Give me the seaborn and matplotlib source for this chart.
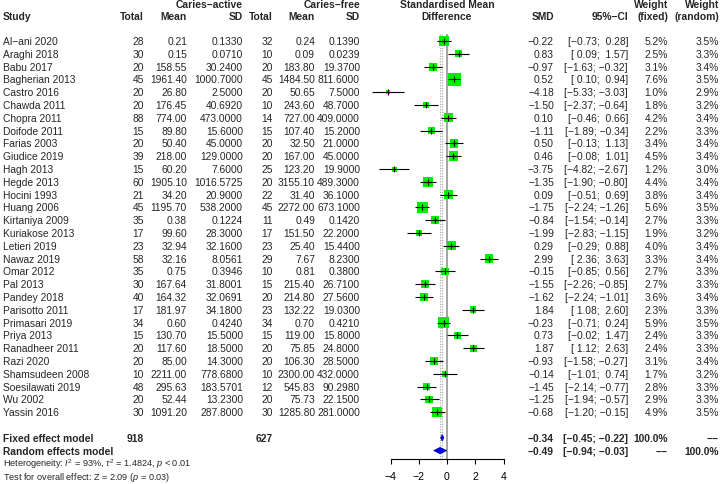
import numpy as np
import pandas as pd
import matplotlib
matplotlib.use("Agg")
import matplotlib.pyplot as plt
import matplotlib.transforms as mtransforms
import seaborn as sns

studies = ["Al\u2212ani 2020", "Araghi 2018", "Babu 2017", "Bagherian 2013", "Castro 2016",
           "Chawda 2011", "Chopra 2011", "Doifode 2011", "Farias 2003", "Giudice 2019",
           "Hagh 2013", "Hegde 2013", "Hocini 1993", "Huang 2006", "Kirtaniya 2009",
           "Kuriakose 2013", "Letieri 2019", "Nawaz 2019", "Omar 2012", "Pal 2013",
           "Pandey 2018", "Parisotto 2011", "Primasari 2019", "Priya 2013", "Ranadheer 2011",
           "Razi 2020", "Shamsudeen 2008", "Soesilawati 2019", "Wu 2002", "Yassin 2016"]
n_active = [28, 30, 20, 45, 20, 20, 88, 15, 20, 39, 15, 60, 21, 45, 35,
            17, 23, 58, 35, 30, 40, 17, 34, 15, 20, 20, 10, 48, 20, 30]
mean_active = [0.21, 0.15, 158.55, 1961.40, 26.80, 176.45, 774.00, 89.80, 50.40, 218.00,
               60.20, 1905.10, 34.20, 1195.70, 0.38, 99.60, 32.94, 32.16, 0.75, 167.64,
               164.32, 181.97, 0.60, 130.70, 117.60, 85.00, 2211.00, 295.63, 52.44, 1091.20]
sd_active = [0.1330, 0.0710, 30.2400, 1000.7000, 2.5000, 40.6920, 473.0000, 15.6000, 45.0000, 129.0000,
             7.6000, 1016.5725, 20.9000, 538.2000, 0.1224, 28.3000, 32.1600, 8.0561, 0.3946, 31.8001,
             32.0691, 34.1800, 0.4240, 15.5000, 18.5000, 14.3000, 778.6800, 183.5701, 13.2300, 287.8000]
n_free = [32, 10, 20, 45, 20, 10, 14, 15, 20, 20, 25, 20, 22, 45, 11,
          17, 23, 29, 10, 15, 20, 23, 34, 15, 20, 20, 10, 12, 20, 30]
mean_free = [0.24, 0.09, 183.80, 1484.50, 50.65, 243.60, 727.00, 107.40, 32.50, 167.00,
             123.20, 3155.10, 31.40, 2272.00, 0.49, 151.50, 25.40, 7.67, 0.81, 215.40,
             214.80, 132.22, 0.70, 119.00, 75.85, 106.30, 2300.00, 545.83, 75.73, 1285.80]
sd_free = [0.1390, 0.0239, 19.3700, 811.6000, 7.5000, 48.7000, 409.0000, 15.2000, 21.0000, 45.0000,
           19.9000, 489.3000, 36.1000, 673.1000, 0.1420, 22.2000, 15.4400, 8.2300, 0.3800, 26.7100,
           27.5600, 19.0300, 0.4210, 15.8000, 24.8000, 28.5000, 432.0000, 90.2980, 22.1500, 281.0000]
smd = [-0.22, 0.83, -0.97, 0.52, -4.18, -1.50, 0.10, -1.11, 0.50, 0.46,
       -3.75, -1.35, 0.09, -1.75, -0.84, -1.99, 0.29, 2.99, -0.15, -1.55,
       -1.62, 1.84, -0.23, 0.73, 1.87, -0.93, -0.14, -1.45, -1.25, -0.68]
ci_low = [-0.73, 0.09, -1.63, 0.10, -5.33, -2.37, -0.46, -1.89, -0.13, -0.08,
          -4.82, -1.90, -0.51, -2.24, -1.54, -2.83, -0.29, 2.36, -0.85, -2.26,
          -2.24, 1.08, -0.71, -0.02, 1.12, -1.58, -1.01, -2.14, -1.94, -1.20]
ci_high = [0.28, 1.57, -0.32, 0.94, -3.03, -0.64, 0.66, -0.34, 1.13, 1.01,
           -2.67, -0.80, 0.69, -1.26, -0.14, -1.15, 0.88, 3.63, 0.56, -0.85,
           -1.01, 2.60, 0.24, 1.47, 2.63, -0.27, 0.74, -0.77, -0.57, -0.15]
w_fixed = [5.2, 2.5, 3.1, 7.6, 1.0, 1.8, 4.2, 2.2, 3.4, 4.5, 1.2, 4.4, 3.8, 5.6, 2.7,
           1.9, 4.0, 3.3, 2.7, 2.7, 3.6, 2.3, 5.9, 2.4, 2.4, 3.1, 1.7, 2.8, 2.9, 4.9]
w_random = [3.5, 3.3, 3.4, 3.5, 2.9, 3.2, 3.4, 3.3, 3.4, 3.4, 3.0, 3.4, 3.4, 3.5, 3.3,
            3.2, 3.4, 3.4, 3.3, 3.3, 3.4, 3.3, 3.5, 3.3, 3.3, 3.4, 3.2, 3.3, 3.3, 3.5]

fixed_est, fixed_lo, fixed_hi = -0.34, -0.45, -0.22
random_est, random_lo, random_hi = -0.49, -0.94, -0.03
total_active, total_free = 918, 627
x_ticks = [-4, -2, 0, 2, 4]

df = pd.DataFrame({"study": studies, "smd": smd, "lo": ci_low, "hi": ci_high,
                   "w": w_fixed, "row": np.arange(len(studies))})

# --- impostazioni grafiche ---
sns.set_style("ticks")
plt.rcParams['font.family'] = ['Liberation Sans', 'DejaVu Sans']
plt.rcParams['mathtext.fontset'] = 'custom'
plt.rcParams['mathtext.rm'] = 'Liberation Sans'
plt.rcParams['mathtext.it'] = 'Liberation Sans:italic'

W, H = 720, 485
y0, row_h = 42, 12.8        # posizione prima riga e passo (pixel)
axis_px = 460               # linea dell'asse x (pixel)
zero_px, unit_px = 447, 14.125
half_w = 81

fig = plt.figure(figsize=(W / 100, H / 100), dpi=100)
ax = fig.add_axes([(zero_px - half_w) / W, (H - axis_px) / H, 2 * half_w / W, axis_px / H])

n = len(studies)
row_fixed, row_random = n + 1, n + 2
ref_top, ref_bot = -0.55, (axis_px - y0) / row_h

# linee di riferimento
ax.vlines(0, ref_top, ref_bot, color="#a3a3a3", lw=1.4, zorder=1)
ax.vlines([fixed_est, random_est], ref_top, ref_bot, color="#a3a3a3", lw=0.8,
          linestyles=(0, (1, 1.4)), zorder=1)

# quadrati (area ~ peso fisso)
sns.scatterplot(data=df, x="smd", y="row", size="w", sizes=(0, 108), size_norm=(0, 10),
                marker="s", color="#00ee00", linewidth=0, legend=False, ax=ax,
                zorder=3, clip_on=False)
ax.hlines(df["row"], df["lo"], df["hi"], color="black", lw=0.8, zorder=4)
ax.plot(df["smd"], df["row"], ls="none", marker="|", ms=3.8, mew=0.8, color="black", zorder=5)

# diamanti
h = 0.25
for est, lo, hi, r in [(fixed_est, fixed_lo, fixed_hi, row_fixed),
                       (random_est, random_lo, random_hi, row_random)]:
    ax.fill([lo, est, hi, est], [r, r - h, r, r + h], facecolor="blue",
            edgecolor="#00008b", lw=0.5, zorder=4)

ax.set_xlim(-half_w / unit_px, half_w / unit_px)
ax.set_ylim(ref_bot, -y0 / row_h)
ax.set_xlabel("")
ax.set_ylabel("")
ax.set_yticks([])
ax.set_xticks(x_ticks)
ax.set_xticklabels([str(t).replace("-", "\u2212") for t in x_ticks])
for s in ["left", "top", "right"]:
    ax.spines[s].set_visible(False)
ax.spines["bottom"].set_bounds(-4, 4)
ax.spines["bottom"].set_linewidth(0.8)
ax.spines["bottom"].set_color("black")
ax.tick_params(axis="x", direction="out", length=3.6, width=0.8, pad=5,
               labelsize=7.6, colors="black", bottom=True)
ax.patch.set_alpha(0)

# --- colonne di testo ---
trans = mtransforms.blended_transform_factory(fig.transFigure, ax.transData)
FS = 7.4
DASH = "\u2212\u2212"


def m(s):
    return s.replace("-", "\u2212")


def put(x, r, s, ha="right", bold=False, size=FS):
    ax.text(x / W, r, s, transform=trans, ha=ha, va="center", fontsize=size,
            fontweight="bold" if bold else "normal", clip_on=False)


def ci_txt(lo, hi):
    return m("[{:5.2f}; {:5.2f}]".format(lo, hi))


col = {"tot_a": 144, "mean_a": 187, "sd_a": 243, "tot_f": 273, "mean_f": 315, "sd_f": 360,
       "smd": 554, "ci": 628, "wf": 668, "wr": 719}

r1, r2 = -2.9, -1.95
put(243, r1, "Caries\u2212active", bold=True)
put(360, r1, "Caries\u2212free", bold=True)
put(zero_px, r1, "Standardised Mean", ha="center", bold=True)
put(col["wf"], r1, "Weight", bold=True)
put(col["wr"], r1, "Weight", bold=True)
put(3, r2, "Study", ha="left", bold=True)
for k, lab in [("tot_a", "Total"), ("mean_a", "Mean"), ("sd_a", "SD"), ("tot_f", "Total"),
               ("mean_f", "Mean"), ("sd_f", "SD"), ("smd", "SMD"), ("ci", "95%\u2212CI"),
               ("wf", "(fixed)"), ("wr", "(random)")]:
    put(col[k], r2, lab, bold=True)
put(zero_px, r2, "Difference", ha="center", bold=True)

for i in range(n):
    put(3, i, studies[i], ha="left")
    put(col["tot_a"], i, str(n_active[i]))
    put(col["mean_a"], i, f"{mean_active[i]:.2f}")
    put(col["sd_a"], i, f"{sd_active[i]:.4f}")
    put(col["tot_f"], i, str(n_free[i]))
    put(col["mean_f"], i, f"{mean_free[i]:.2f}")
    put(col["sd_f"], i, f"{sd_free[i]:.4f}")
    put(col["smd"], i, m(f"{smd[i]:.2f}"))
    put(col["ci"], i, ci_txt(ci_low[i], ci_high[i]))
    put(col["wf"], i, f"{w_fixed[i]:.1f}%")
    put(col["wr"], i, f"{w_random[i]:.1f}%")

put(3, row_fixed, "Fixed effect model", ha="left", bold=True)
put(col["tot_a"], row_fixed, str(total_active), bold=True)
put(col["tot_f"], row_fixed, str(total_free), bold=True)
put(col["smd"], row_fixed, m(f"{fixed_est:.2f}"), bold=True)
put(col["ci"], row_fixed, ci_txt(fixed_lo, fixed_hi), bold=True)
put(col["wf"], row_fixed, "100.0%", bold=True)
put(col["wr"], row_fixed, DASH, bold=True)

put(3, row_random, "Random effects model", ha="left", bold=True)
put(col["smd"], row_random, m(f"{random_est:.2f}"), bold=True)
put(col["ci"], row_random, ci_txt(random_lo, random_hi), bold=True)
put(col["wf"], row_random, DASH, bold=True)
put(col["wr"], row_random, "100.0%", bold=True)

put(3, 33.0, r"Heterogeneity: $I^2$ = 93%, $\tau^2$ = 1.4824, $p$ < 0.01", ha="left", size=6.6)
put(3, 34.0, r"Test for overall effect: Z = 2.09 ($p$ = 0.03)", ha="left", size=6.6)

fig.savefig("out.png", dpi=100)
